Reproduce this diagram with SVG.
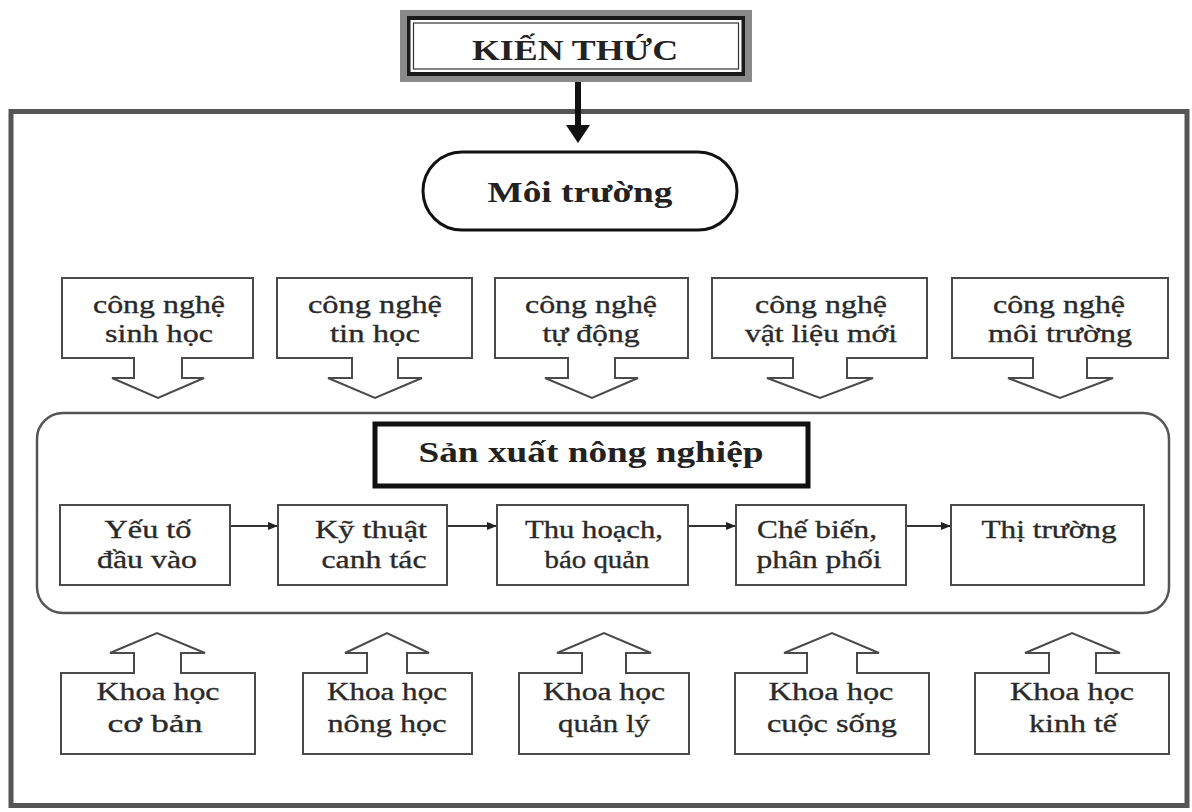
<svg xmlns="http://www.w3.org/2000/svg" width="1192" height="812" viewBox="0 0 1192 812">
<style>
.t{font-family:"Liberation Serif","DejaVu Serif",serif;font-size:26px;fill:#2a2a2a;stroke:#2a2a2a;stroke-width:0.35;text-anchor:middle}
.b{font-family:"Liberation Serif","DejaVu Serif",serif;font-weight:bold;fill:#222;text-anchor:middle}
.box{fill:#fff;stroke:#4a4a4a;stroke-width:2}
.co{fill:#fff;stroke:#4a4a4a;stroke-width:2;stroke-linejoin:miter}
.ln{stroke:#333;stroke-width:2;fill:none}
</style>
<defs>
<marker id="ah" markerWidth="10" markerHeight="8" refX="10" refY="4" orient="auto" markerUnits="userSpaceOnUse">
<path d="M0,0 L10,4 L0,8 Z" fill="#222"/>
</marker>
</defs>
<rect x="0" y="0" width="1192" height="812" fill="#fff"/>
<rect id="frame" x="11" y="111.5" width="1176" height="694" fill="none" stroke="#555" stroke-width="5"/>

<g id="kienthuc">
<rect x="403" y="13" width="346" height="66" fill="#fff" stroke="#8a8a8a" stroke-width="6"/>
<rect x="408.5" y="18" width="335" height="56" fill="none" stroke="#1a1a1a" stroke-width="4"/>
<rect x="413.5" y="23" width="325" height="46" fill="none" stroke="#333" stroke-width="1.2"/>
<text class="b" x="575" y="60" font-size="30" textLength="206" lengthAdjust="spacingAndGlyphs">KIẾN THỨC</text>
</g>

<g id="connectors">
<line x1="578" y1="82" x2="578" y2="127" stroke="#111" stroke-width="6"/>
<path d="M566,125 L590,125 L578,143 Z" fill="#111"/>
<line class="ln" x1="230" y1="526" x2="278" y2="526" marker-end="url(#ah)"/>
<line class="ln" x1="447" y1="526" x2="497" y2="526" marker-end="url(#ah)"/>
<line class="ln" x1="688" y1="526" x2="736" y2="526" marker-end="url(#ah)"/>
<line class="ln" x1="906" y1="526" x2="951" y2="526" marker-end="url(#ah)"/>
</g>

<g id="moitruong">
<rect x="423" y="152" width="314" height="78" rx="39" ry="39" fill="#fff" stroke="#111" stroke-width="3"/>
<text class="b" x="580" y="202" font-size="30" textLength="185" lengthAdjust="spacingAndGlyphs">Môi trường</text>
</g>

<g id="cn1">
<path class="co" d="M62,278 H253 V358 H182 V378 H204 L158,398 L112,378 H134 V358 H62 Z"/>
<text class="t" x="159" y="313" textLength="132" lengthAdjust="spacingAndGlyphs">công nghệ</text>
<text class="t" x="159" y="342" textLength="108" lengthAdjust="spacingAndGlyphs">sinh học</text>
</g>
<g id="cn2">
<path class="co" d="M277,278 H472 V358 H398 V378 H422 L375,398 L328,378 H352 V358 H277 Z"/>
<text class="t" x="375" y="313" textLength="134" lengthAdjust="spacingAndGlyphs">công nghệ</text>
<text class="t" x="375" y="342" textLength="90" lengthAdjust="spacingAndGlyphs">tin học</text>
</g>
<g id="cn3">
<path class="co" d="M495,278 H688 V358 H615 V378 H638 L592,398 L545,378 H568 V358 H495 Z"/>
<text class="t" x="591" y="313" textLength="132" lengthAdjust="spacingAndGlyphs">công nghệ</text>
<text class="t" x="591" y="342" textLength="97" lengthAdjust="spacingAndGlyphs">tự động</text>
</g>
<g id="cn4">
<path class="co" d="M712,278 H927 V358 H847 V378 H873 L820,398 L767,378 H793 V358 H712 Z"/>
<text class="t" x="821" y="313" textLength="132" lengthAdjust="spacingAndGlyphs">công nghệ</text>
<text class="t" x="821" y="342" textLength="152" lengthAdjust="spacingAndGlyphs">vật liệu mới</text>
</g>
<g id="cn5">
<path class="co" d="M952,278 H1168 V358 H1087 V378 H1113 L1060,398 L1008,378 H1033 V358 H952 Z"/>
<text class="t" x="1059" y="313" textLength="132" lengthAdjust="spacingAndGlyphs">công nghệ</text>
<text class="t" x="1060" y="342" textLength="144" lengthAdjust="spacingAndGlyphs">môi trường</text>
</g>

<g id="sanxuat-group">
<rect x="37" y="413" width="1132" height="200" rx="26" ry="26" fill="none" stroke="#555" stroke-width="2.5"/>
</g>
<g id="sanxuat">
<rect x="375" y="424" width="433" height="62" fill="#fff" stroke="#111" stroke-width="5"/>
<text class="b" x="591" y="462" font-size="29" textLength="345" lengthAdjust="spacingAndGlyphs">Sản xuất nông nghiệp</text>
</g>

<g id="yeuto">
<rect class="box" x="60" y="505" width="170" height="80"/>
<text class="t" x="148" y="538" textLength="87" lengthAdjust="spacingAndGlyphs">Yếu tố</text>
<text class="t" x="147" y="568" textLength="100" lengthAdjust="spacingAndGlyphs">đầu vào</text>
</g>
<g id="kythuat">
<rect class="box" x="278" y="505" width="169" height="80"/>
<text class="t" x="371" y="538" textLength="112" lengthAdjust="spacingAndGlyphs">Kỹ thuật</text>
<text class="t" x="374" y="568" textLength="105" lengthAdjust="spacingAndGlyphs">canh tác</text>
</g>
<g id="thuhoach">
<rect class="box" x="497" y="505" width="191" height="80"/>
<text class="t" x="594" y="538" textLength="138" lengthAdjust="spacingAndGlyphs">Thu hoạch,</text>
<text class="t" x="597" y="568" textLength="105" lengthAdjust="spacingAndGlyphs">báo quản</text>
</g>
<g id="chebien">
<rect class="box" x="736" y="505" width="170" height="80"/>
<text class="t" x="817" y="538" textLength="120" lengthAdjust="spacingAndGlyphs">Chế biến,</text>
<text class="t" x="819" y="568" textLength="125" lengthAdjust="spacingAndGlyphs">phân phối</text>
</g>
<g id="thitruong">
<rect class="box" x="951" y="505" width="193" height="80"/>
<text class="t" x="1049" y="538" textLength="135" lengthAdjust="spacingAndGlyphs">Thị trường</text>
</g>

<g id="kh1">
<path class="co" d="M61,673 H134 V653 H110 L157,633 L205,653 H181 V673 H255 V754 H61 Z"/>
<text class="t" x="158" y="700" textLength="123" lengthAdjust="spacingAndGlyphs">Khoa học</text>
<text class="t" x="155" y="732" textLength="95" lengthAdjust="spacingAndGlyphs">cơ bản</text>
</g>
<g id="kh2">
<path class="co" d="M303,673 H367 V653 H345 L387,633 L429,653 H407 V673 H472 V754 H303 Z"/>
<text class="t" x="387" y="700" textLength="120" lengthAdjust="spacingAndGlyphs">Khoa học</text>
<text class="t" x="387" y="732" textLength="119" lengthAdjust="spacingAndGlyphs">nông học</text>
</g>
<g id="kh3">
<path class="co" d="M519,673 H582 V653 H557 L604,633 L651,653 H626 V673 H689 V754 H519 Z"/>
<text class="t" x="604" y="700" textLength="122" lengthAdjust="spacingAndGlyphs">Khoa học</text>
<text class="t" x="604" y="732" textLength="92" lengthAdjust="spacingAndGlyphs">quản lý</text>
</g>
<g id="kh4">
<path class="co" d="M735,673 H807 V653 H784 L832,633 L879,653 H857 V673 H929 V754 H735 Z"/>
<text class="t" x="831" y="700" textLength="125" lengthAdjust="spacingAndGlyphs">Khoa học</text>
<text class="t" x="832" y="732" textLength="130" lengthAdjust="spacingAndGlyphs">cuộc sống</text>
</g>
<g id="kh5">
<path class="co" d="M975,673 H1049 V653 H1025 L1072,633 L1120,653 H1096 V673 H1169 V754 H975 Z"/>
<text class="t" x="1072" y="700" textLength="124" lengthAdjust="spacingAndGlyphs">Khoa học</text>
<text class="t" x="1073" y="732" textLength="88" lengthAdjust="spacingAndGlyphs">kinh tế</text>
</g>
</svg>
